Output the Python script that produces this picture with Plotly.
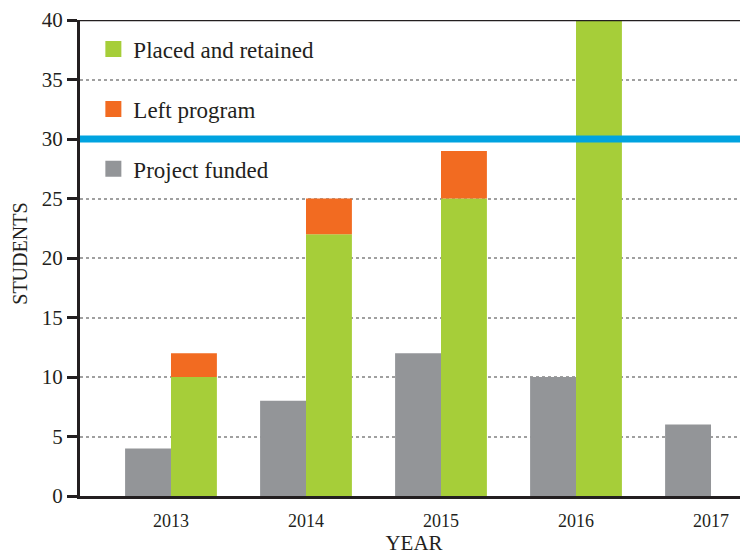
import plotly.graph_objects as go

years = ["2013", "2014", "2015", "2016", "2017"]
project_funded = [4, 8, 12, 10, 6]
placed_retained = [10, 22, 25, 40, 0]
left_program = [2, 3, 4, 0, 0]
threshold = 30

GREEN = "#a6ce39"
ORANGE = "#f26b21"
GREY = "#939598"
BLUE = "#00a3e0"
DARK = "#231f20"
FONT = "'Liberation Serif', 'DejaVu Serif', serif"

xs = list(range(len(years)))
w = 0.34

fig = go.Figure()
fig.add_trace(go.Bar(x=xs, y=project_funded, offset=-w, width=w,
                     marker=dict(color=GREY, line=dict(width=0)), showlegend=False))
fig.add_trace(go.Bar(x=xs, y=placed_retained, offset=0, width=w,
                     marker=dict(color=GREEN, line=dict(width=0)), showlegend=False))
fig.add_trace(go.Bar(x=xs, y=left_program, base=placed_retained, offset=0, width=w,
                     marker=dict(color=ORANGE, line=dict(width=0)), showlegend=False))

for name, col in [("Placed and retained", GREEN), ("Left program", ORANGE), ("Project funded", GREY)]:
    fig.add_trace(go.Scatter(x=[None], y=[None], mode="markers", name=name,
                             legendgroup=name,
                             marker=dict(symbol="square", size=16, color=col)))

fig.add_shape(type="line", xref="paper", yref="y", x0=0, x1=1, y0=threshold, y1=threshold,
              line=dict(color=BLUE, width=7), layer="above")
fig.add_shape(type="line", xref="paper", yref="y", x0=0, x1=1, y0=40, y1=40,
              line=dict(color=DARK, width=2.5), layer="above")

fig.add_annotation(text="STUDENTS", textangle=-90, xref="paper", yref="paper",
                   x=0, y=0.509, xanchor="center", yanchor="middle", xshift=-60,
                   showarrow=False, font=dict(size=20, family=FONT, color=DARK))

fig.update_layout(
    width=740, height=547,
    margin=dict(l=72, r=0, t=12, b=59),
    paper_bgcolor="white", plot_bgcolor="white",
    barmode="overlay",
    font=dict(family=FONT, color=DARK, size=20),
    legend=dict(x=0.02, y=0.984, xanchor="left", yanchor="top",
                font=dict(size=23, family=FONT, color=DARK),
                tracegroupgap=27, itemsizing="trace",
                bgcolor="rgba(0,0,0,0)"),
    xaxis=dict(range=[-0.674, 4.274], tickmode="array", tickvals=xs, ticktext=years,
               showgrid=False, zeroline=False, showline=True, linecolor=DARK, linewidth=3,
               ticks="", tickfont=dict(size=18, family=FONT, color=DARK), automargin=False,
               ticklabelstandoff=6,
               title=dict(text="YEAR", font=dict(size=21, family=FONT, color=DARK), standoff=6)),
    yaxis=dict(range=[0, 40], tickmode="array", tickvals=[0, 5, 10, 15, 20, 25, 30, 35, 40],
               showgrid=True, gridcolor="#a0a0a0", griddash="dot", gridwidth=1.5,
               zeroline=False, showline=True, linecolor=DARK, linewidth=3,
               ticks="outside", ticklen=10, tickwidth=3, tickcolor=DARK, automargin=False,
               tickfont=dict(size=21, family=FONT, color=DARK)),
)

fig.write_html("out.html")
